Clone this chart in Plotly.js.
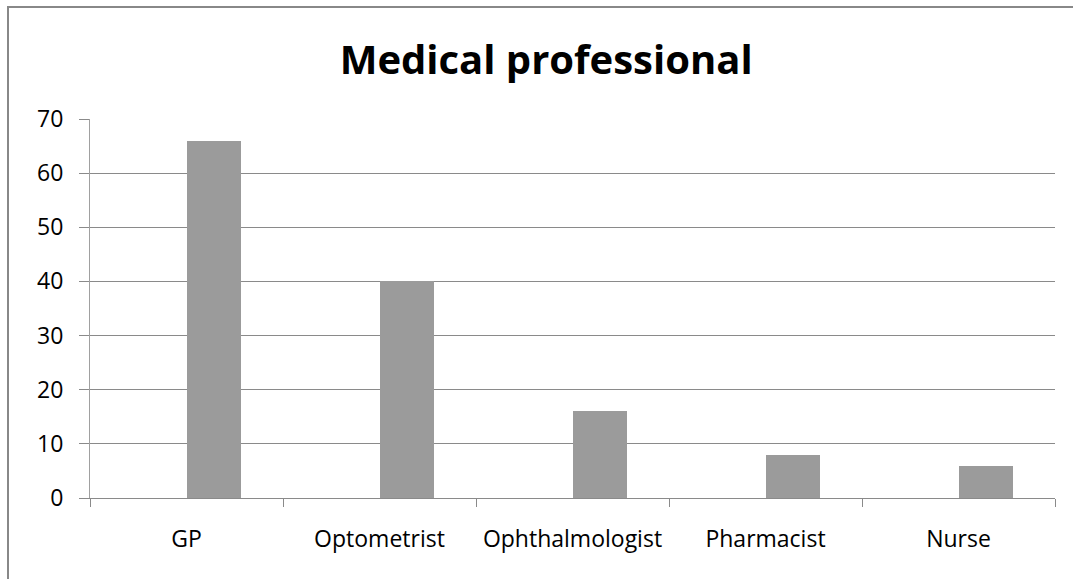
<!DOCTYPE html>
<html>
<head>
<meta charset="utf-8">
<script src="https://cdn.plot.ly/plotly-3.0.1.min.js"></script>
<style>
  html, body { margin: 0; padding: 0; background: #ffffff; overflow: hidden; }
  #wrap { position: relative; width: 1073px; height: 579px; overflow: hidden; }
  #chart { position: absolute; left: 0; top: 0; width: 1073px; height: 579px; }
  #frame { position: absolute; left: 7px; top: 6px; width: 1200px; height: 700px;
           border-left: 2.5px solid #888888; border-top: 2.5px solid #888888;
           pointer-events: none; box-sizing: border-box; }
</style>
</head>
<body>
<div id="wrap">
  <div id="chart"></div>
  <div id="frame"></div>
</div>
<script>
// ---- data ----
const categories = ["GP", "Optometrist", "Ophthalmologist", "Pharmacist", "Nurse"];
const counts = [66, 40, 16, 8, 6];
const yTickValues = [0, 10, 20, 30, 40, 50, 60, 70];
const chartTitle = "Medical professional";

// ---- layout constants ----
const W = 1073, H = 579;
const M = { l: 90, r: 18, t: 119, b: 81 };

const gridColor = "#8a8a8a";
const axisColor = "#8a8a8a";
const font = "Open Sans, sans-serif";

const trace = {
  type: "bar",
  x: categories,
  y: counts,
  width: 0.28,
  offset: 0,
  marker: { color: "#9b9b9b", line: { width: 0 } },
  hoverinfo: "x+y"
};

const layout = {
  width: W, height: H,
  margin: M,
  paper_bgcolor: "#ffffff",
  plot_bgcolor: "#ffffff",
  showlegend: false,
  title: {
    text: chartTitle,
    font: { family: font, size: 40, color: "#000000", weight: "bold" },
    x: 0.509, xref: "container", xanchor: "center",
    y: 0.897, yref: "container", yanchor: "middle"
  },
  xaxis: {
    type: "category",
    range: [-0.5, categories.length - 0.5],
    showline: true, linecolor: axisColor, linewidth: 1,
    showgrid: false, zeroline: false,
    ticks: "outside", tickson: "boundaries", ticklen: 8, tickcolor: axisColor,
    ticklabelstandoff: 20,
    tickfont: { family: font, size: 23, color: "#000000" },
    fixedrange: true
  },
  yaxis: {
    range: [0, 70],
    tickvals: yTickValues,
    showline: true, linecolor: "#a0a0a0", linewidth: 1,
    showgrid: true, gridcolor: gridColor, gridwidth: 1,
    zeroline: false,
    ticks: "outside", ticklen: 10, tickcolor: gridColor,
    ticklabelstandoff: 11,
    tickfont: { family: font, size: 23, color: "#000000" },
    fixedrange: true
  },
  bargap: 0
};

Plotly.newPlot("chart", [trace], layout, { displayModeBar: false, staticPlot: true });
</script>
</body>
</html>
